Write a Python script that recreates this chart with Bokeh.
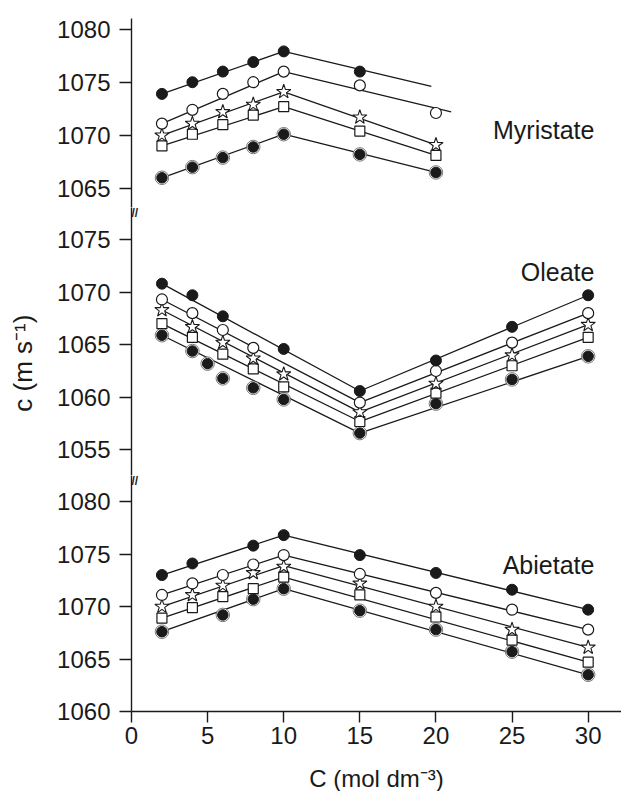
from bokeh.plotting import figure
from bokeh.layouts import column
from bokeh.models import Range1d, FixedTicker, Label
from bokeh.embed import file_html
from bokeh.resources import INLINE

FONT = "Liberation Sans"
INK = "#1a1a1a"

# ---------------- data ----------------
# Myristate
myr_x1 = [2, 4, 6, 8, 10, 15]
myr_y1 = [1073.9, 1075.0, 1076.0, 1076.9, 1077.9, 1076.0]
myr_x2 = [2, 4, 6, 8, 10, 15, 20]
myr_y2 = [1071.1, 1072.4, 1073.9, 1075.0, 1076.0, 1074.7, 1072.1]
myr_x3 = [2, 4, 6, 8, 10, 15, 20]
myr_y3 = [1070.0, 1071.1, 1072.2, 1072.9, 1074.1, 1071.7, 1069.1]
myr_x4 = [2, 4, 6, 8, 10, 15, 20]
myr_y4 = [1069.0, 1070.1, 1071.0, 1071.9, 1072.7, 1070.4, 1068.1]
myr_x5 = [2, 4, 6, 8, 10, 15, 20]
myr_y5 = [1066.0, 1067.0, 1067.9, 1068.9, 1070.1, 1068.2, 1066.5]
# fitted lines (two linear segments)
myr_lx1 = [2, 10, 19.7]
myr_ly1 = [1073.9, 1077.9, 1074.6]
myr_lx2 = [2, 10, 21]
myr_ly2 = [1071.1, 1076.0, 1072.2]
myr_lx3 = [2, 10, 20]
myr_ly3 = [1070.0, 1074.1, 1069.1]
myr_lx4 = [2, 10, 20]
myr_ly4 = [1069.0, 1072.7, 1068.1]
myr_lx5 = [2, 10, 20]
myr_ly5 = [1066.0, 1070.1, 1066.5]

# Oleate
ole_x1 = [2, 4, 6, 10, 15, 20, 25, 30]
ole_y1 = [1070.8, 1069.7, 1067.7, 1064.6, 1060.6, 1063.5, 1066.7, 1069.7]
ole_x2 = [2, 4, 6, 8, 15, 20, 25, 30]
ole_y2 = [1069.3, 1068.0, 1066.4, 1064.7, 1059.5, 1062.5, 1065.2, 1068.0]
ole_x3 = [2, 4, 6, 8, 10, 15, 20, 25, 30]
ole_y3 = [1068.3, 1066.7, 1065.2, 1063.7, 1062.2, 1058.6, 1061.3, 1064.0, 1066.9]
ole_x4 = [2, 4, 6, 8, 10, 15, 20, 25, 30]
ole_y4 = [1067.0, 1065.7, 1064.1, 1062.7, 1061.0, 1057.7, 1060.4, 1063.0, 1065.7]
ole_x5 = [2, 4, 5, 6, 8, 10, 15, 20, 25, 30]
ole_y5 = [1065.9, 1064.4, 1063.2, 1061.8, 1060.9, 1059.8, 1056.6, 1059.4, 1061.7, 1063.9]
ole_lx = [2, 15, 30]
ole_ly1 = [1070.8, 1060.6, 1069.7]
ole_ly2 = [1069.3, 1059.5, 1068.0]
ole_ly3 = [1068.3, 1058.6, 1066.9]
ole_ly4 = [1067.0, 1057.7, 1065.7]
ole_ly5 = [1065.9, 1056.6, 1063.9]

# Abietate
abi_x1 = [2, 4, 8, 10, 15, 20, 25, 30]
abi_y1 = [1073.0, 1074.1, 1075.8, 1076.8, 1074.9, 1073.2, 1071.6, 1069.7]
abi_x2 = [2, 4, 6, 8, 10, 15, 20, 25, 30]
abi_y2 = [1071.1, 1072.2, 1073.0, 1074.0, 1074.9, 1073.1, 1071.3, 1069.7, 1067.8]
abi_x3 = [2, 4, 6, 8, 10, 15, 20, 25, 30]
abi_y3 = [1070.0, 1071.1, 1072.0, 1073.2, 1073.8, 1072.2, 1070.0, 1067.8, 1066.1]
abi_x4 = [2, 4, 6, 8, 10, 15, 20, 25, 30]
abi_y4 = [1068.9, 1069.9, 1070.95, 1071.7, 1072.8, 1071.1, 1069.0, 1066.8, 1064.7]
abi_x5 = [2, 6, 8, 10, 15, 20, 25, 30]
abi_y5 = [1067.6, 1069.2, 1070.7, 1071.7, 1069.6, 1067.8, 1065.7, 1063.5]
abi_lx = [2, 10, 30]
abi_ly1 = [1073.0, 1076.8, 1069.7]
abi_ly2 = [1071.1, 1074.9, 1067.8]
abi_ly3 = [1070.0, 1073.9, 1066.1]
abi_ly4 = [1068.9, 1072.8, 1064.7]
abi_ly5 = [1067.6, 1071.7, 1063.5]

x_ticks = [0, 5, 10, 15, 20, 25, 30]
myr_ticks = [1065, 1070, 1075, 1080]
ole_ticks = [1055, 1060, 1065, 1070, 1075]
abi_ticks = [1060, 1065, 1070, 1075, 1080]

x_title = "C (mol dm\u207b\u00b3)"
y_title = "c (m s\u207b\u00b9)" + "\u00a0" * 6

X_RANGE = (0, 32.19)


def make_fig(yr, ticks, frame_h, top, bottom, show_x):
    p = figure(frame_width=490, frame_height=frame_h,
               x_range=Range1d(*X_RANGE), y_range=Range1d(*yr),
               output_backend="svg", toolbar_location=None,
               min_border_left=131, min_border_right=0,
               min_border_top=top, min_border_bottom=bottom,
               x_axis_location="below" if show_x else None,
               background_fill_color="white", border_fill_color="white")
    p.outline_line_color = None
    p.grid.visible = False
    ax = p.yaxis[0]
    ax.ticker = FixedTicker(ticks=ticks)
    axes = [ax]
    if show_x:
        xa = p.xaxis[0]
        xa.ticker = FixedTicker(ticks=x_ticks)
        xa.major_tick_out = 11
        xa.major_label_standoff = 4
        axes.append(xa)
    for a in axes:
        a.major_tick_in = 0
        a.minor_tick_in = 0
        a.minor_tick_out = 0
        a.axis_line_width = 1.4
        a.axis_line_color = INK
        a.major_tick_line_width = 1.4
        a.major_tick_line_color = INK
        a.major_label_text_font = FONT
        a.major_label_text_font_size = "24px"
        a.major_label_text_color = INK
        a.axis_label_text_font = FONT
        a.axis_label_text_font_style = "normal"
        a.axis_label_text_color = INK
    ax.major_tick_out = 12
    ax.major_label_standoff = 9
    return p


def draw_series(p, lines, pts):
    for lx, ly in lines:
        p.line(lx, ly, line_color=INK, line_width=1.3)
    (x1, y1), (x2, y2), (x3, y3), (x4, y4), (x5, y5) = pts
    # ringed filled circles
    p.scatter(x5, y5, marker="circle", size=13.5, fill_color="white",
              line_color="#555555", line_width=0.8)
    p.scatter(x5, y5, marker="circle", size=10.5, fill_color=INK, line_color=INK)
    p.scatter(x4, y4, marker="square", size=10, fill_color="white",
              line_color=INK, line_width=1.2)
    p.scatter(x3, y3, marker="star", size=15, fill_color="white",
              line_color=INK, line_width=1.1)
    p.scatter(x2, y2, marker="circle", size=11, fill_color="white",
              line_color=INK, line_width=1.2)
    p.scatter(x1, y1, marker="circle", size=11, fill_color=INK, line_color=INK)


def name_label(p, x, y, text):
    p.add_layout(Label(x=x, y=y, text=text, text_align="right",
                       text_baseline="alphabetic", text_font=FONT,
                       text_font_size="25px", text_color=INK))


def break_mark(p, y):
    p.add_layout(Label(x=0, y=y, text="//", text_align="left",
                       text_baseline="middle", text_font=FONT,
                       text_font_size="12px", text_font_style="bold",
                       text_color=INK))


# ---------------- panels ----------------
top = make_fig((1063.2, 1081.0), myr_ticks, 189, 18, 0, False)
draw_series(top,
            [(myr_lx1, myr_ly1), (myr_lx2, myr_ly2), (myr_lx3, myr_ly3),
             (myr_lx4, myr_ly4), (myr_lx5, myr_ly5)],
            [(myr_x1, myr_y1), (myr_x2, myr_y2), (myr_x3, myr_y3),
             (myr_x4, myr_y4), (myr_x5, myr_y5)])
name_label(top, 30.41, 1070.5, "Myristate")

mid = make_fig((1052.57, 1078.04), ole_ticks, 268, 0, 0, False)
draw_series(mid,
            [(ole_lx, ole_ly1), (ole_lx, ole_ly2), (ole_lx, ole_ly3),
             (ole_lx, ole_ly4), (ole_lx, ole_ly5)],
            [(ole_x1, ole_y1), (ole_x2, ole_y2), (ole_x3, ole_y3),
             (ole_x4, ole_y4), (ole_x5, ole_y5)])
name_label(mid, 30.41, 1071.95, "Oleate")
break_mark(mid, 1077.5)
mid.yaxis[0].axis_label = y_title
mid.yaxis[0].axis_label_text_font_size = "26px"
mid.yaxis[0].axis_label_standoff = 16

bot = make_fig((1060.0, 1082.48), abi_ticks, 236, 0, 79, True)
draw_series(bot,
            [(abi_lx, abi_ly1), (abi_lx, abi_ly2), (abi_lx, abi_ly3),
             (abi_lx, abi_ly4), (abi_lx, abi_ly5)],
            [(abi_x1, abi_y1), (abi_x2, abi_y2), (abi_x3, abi_y3),
             (abi_x4, abi_y4), (abi_x5, abi_y5)])
name_label(bot, 30.41, 1074.0, "Abietate")
break_mark(bot, 1082.0)
bot.xaxis[0].axis_label = x_title
bot.xaxis[0].axis_label_text_font_size = "24px"
bot.xaxis[0].axis_label_standoff = 18

layout = column(top, mid, bot, spacing=0)
open("out.html", "w").write(file_html(layout, INLINE))
